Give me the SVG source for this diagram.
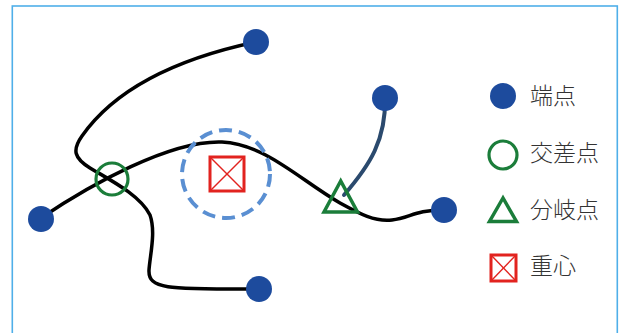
<svg xmlns="http://www.w3.org/2000/svg" width="619" height="333" viewBox="0 0 619 333">
  <style>
    .frame { fill: #ffffff; stroke: #4fafe9; stroke-width: 1.6; }
    .wire { fill: none; stroke: #000000; stroke-width: 3.5; stroke-linecap: round; }
    .branch { fill: none; stroke: #2b4a6e; stroke-width: 4; stroke-linecap: round; }
    .end { fill: #1d4b9d; }
    .cross { fill: none; stroke: #1b7d3a; stroke-width: 3.2; }
    .fork { fill: none; stroke: #1b7d3a; stroke-width: 3.5; stroke-linejoin: miter; }
    .zone { fill: none; stroke: #5a8fd2; stroke-width: 4; stroke-dasharray: 13 7; }
    .box { fill: none; stroke: #e2231f; stroke-width: 3; }
    .diag { stroke: #e2231f; stroke-width: 1.4; }
    .label { font-family: "Noto Sans CJK JP", "Noto Sans", sans-serif; font-size: 23px; font-weight: 300; fill: #333333; }
  </style>

  <rect class="frame" x="12.3" y="6" width="605" height="340"/>

  <!-- connectors -->
  <g id="connectors">
    <path class="wire" d="M 256,42 C 190,56 120,82 82,136 C 72,150 74,158 90,168 C 110,180 140,195 150,215 C 156,232 150,255 149,270 C 148,290 170,289 259,289"/>
    <path class="wire" d="M 41,218 C 90,185 170,140 222,142 C 265,144 300,180 340,203 C 360,214 375,222 392,220 C 410,218 415,210 443,210"/>
    <path class="branch" d="M 385,98 C 386,140 370,165 344,195"/>
  </g>

  <!-- endpoints -->
  <g id="end-top"><circle class="end" cx="256" cy="42" r="13"/></g>
  <g id="end-upper-right"><circle class="end" cx="385" cy="98" r="13"/></g>
  <g id="end-left"><circle class="end" cx="41" cy="219" r="13"/></g>
  <g id="end-right"><circle class="end" cx="444" cy="210" r="13"/></g>
  <g id="end-bottom"><circle class="end" cx="259" cy="289" r="13"/></g>

  <!-- crossing point -->
  <g id="crossing"><circle class="cross" cx="112" cy="179" r="16"/></g>

  <!-- branch point -->
  <g id="fork"><polygon class="fork" points="340.7,181 324,212 357.5,212"/></g>

  <!-- centroid with its surrounding zone -->
  <g id="centroid">
    <circle class="zone" cx="226" cy="174" r="44"/>
    <rect class="box" x="210" y="157" width="34" height="34"/>
    <line class="diag" x1="210" y1="157" x2="244" y2="191"/>
    <line class="diag" x1="244" y1="157" x2="210" y2="191"/>
  </g>

  <!-- legend -->
  <g id="legend">
    <circle class="end" cx="503" cy="96" r="13"/>
    <text class="label" x="530" y="104">端点</text>

    <circle class="cross" cx="503" cy="155" r="14"/>
    <text class="label" x="530" y="161">交差点</text>

    <polygon class="fork" points="503,198 489.5,221.5 516.5,221.5"/>
    <text class="label" x="530" y="218">分岐点</text>

    <rect class="box" x="491" y="255" width="25" height="26"/>
    <line class="diag" x1="491" y1="255" x2="516" y2="281"/>
    <line class="diag" x1="516" y1="255" x2="491" y2="281"/>
    <text class="label" x="530" y="274">重心</text>
  </g>
</svg>
